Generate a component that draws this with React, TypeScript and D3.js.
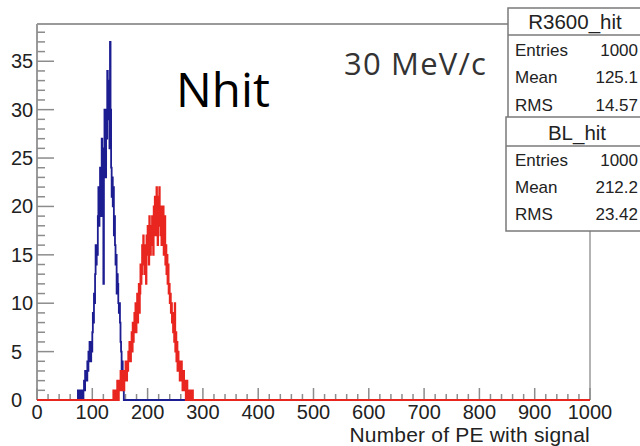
import React from "react";
import * as d3 from "d3";

const W = 640;
const H = 446;

const xTicksMajor = [0, 100, 200, 300, 400, 500, 600, 700, 800, 900, 1000];
const yTicksMajor = [0, 5, 10, 15, 20, 25, 30, 35];

const blueStart = 74;
const blueCounts = [
  1, 0, 1, 1, 1, 0, 1, 0, 1, 0,
  1, 2, 1, 3, 2, 3, 2, 4, 3, 5,
  4, 6, 5, 4, 6, 5, 7, 9, 8, 11,
  10, 13, 16, 14, 16, 15, 19, 22, 18, 20,
  24, 21, 19, 27, 24, 22, 12, 26, 30, 28,
  23, 30, 27, 34, 29, 33, 31, 26, 37, 30,
  24, 21, 23, 20, 22, 17, 19, 16, 14, 15,
  11, 13, 12, 10, 9, 10, 8, 6, 5, 3,
  4, 2, 1,
];

const redStart = 138;
const redCounts = [
  1, 0, 1, 0, 1, 1, 0, 2, 1, 0,
  1, 2, 1, 3, 2, 1, 3, 2, 3, 1,
  3, 2, 4, 3, 2, 4, 3, 5, 4, 6,
  5, 4, 6, 7, 5, 8, 6, 7, 9, 8,
  10, 7, 9, 11, 8, 10, 12, 9, 11, 14,
  12, 13, 16, 14, 17, 15, 13, 16, 14, 12,
  17, 15, 18, 16, 14, 19, 17, 15, 18, 16,
  19, 17, 15, 20, 18, 21, 17, 19, 22, 20,
  16, 21, 19, 22, 18, 17, 20, 16, 19, 18,
  20, 15, 17, 19, 14, 16, 13, 15, 12, 14,
  11, 12, 10, 11, 9, 10, 8, 9, 7, 8,
  6, 10, 5, 7, 4, 6, 3, 5, 3, 4,
  2, 3, 2, 4, 2, 1, 2, 3, 1, 2,
  1, 0, 1, 2, 0, 1, 0, 1, 0, 0,
  1, 0, 0, 1,
];

const statNames = ["Entries", "Mean", "RMS"];
const blueStats = ["1000", "125.1", "14.57"];
const redStats = ["1000", "212.2", "23.42"];

const NBINS = 1000;

function fullBins(start: number, counts: number[]) {
  const arr = new Array(NBINS).fill(0);
  counts.forEach((c, i) => {
    arr[start + i] = c;
  });
  return arr;
}

export default function App() {
  const x = d3.scaleLinear().domain([0, 1000]).range([37, 590]);
  const y = d3.scaleLinear().domain([0, 38.85]).range([400, 24]);

  const stepLine = d3
    .line<[number, number]>()
    .x((d) => x(d[0]))
    .y((d) => y(d[1]))
    .curve(d3.curveStepAfter);

  const makePath = (start: number, counts: number[]) => {
    const bins = fullBins(start, counts);
    const pts: [number, number][] = bins.map((c, i) => [i, c]);
    pts.push([NBINS, bins[NBINS - 1]]);
    return stepLine(pts) || "";
  };

  const bluePath = makePath(blueStart, blueCounts);
  const redPath = makePath(redStart, redCounts);

  const xMinor = d3.range(0, 1001, 20);
  const yMinor = d3.range(0, 39, 1);

  const tickColor = "#8c8c8c";
  const labelFont = "'Liberation Sans', Arial, Helvetica, sans-serif";

  const box1 = { x: 508, y: 8, w: 140, titleH: 27, rowH: 27.5 };
  const box2 = { x: 506, y: 117, w: 142, titleH: 29, rowH: 27 };

  const renderBox = (
    b: { x: number; y: number; w: number; titleH: number; rowH: number },
    title: string,
    vals: string[],
    titleCx: number
  ) => {
    const h = b.titleH + b.rowH * 3 + 4;
    return (
      <g>
        <rect x={b.x} y={b.y} width={b.w} height={h} fill="#fff" stroke="#7a7a7a" strokeWidth={1.5} />
        <line x1={b.x} x2={b.x + b.w} y1={b.y + b.titleH} y2={b.y + b.titleH} stroke="#7a7a7a" strokeWidth={1.5} />
        <text x={titleCx} y={b.y + b.titleH - 6} textAnchor="middle" fontSize={20.5} fontFamily={labelFont} fill="#222">
          {title}
        </text>
        {statNames.map((n, i) => (
          <g key={n}>
            <text x={515} y={b.y + b.titleH + b.rowH * (i + 1) - 7} fontSize={17} fontFamily={labelFont} fill="#222">
              {n}
            </text>
            <text x={638} y={b.y + b.titleH + b.rowH * (i + 1) - 7} textAnchor="end" fontSize={17} fontFamily={labelFont} fill="#222">
              {vals[i]}
            </text>
          </g>
        ))}
      </g>
    );
  };

  return (
    <svg width={W} height={H} style={{ position: "absolute", left: 0, top: 0, background: "#fff" }}>
      <rect x={0} y={0} width={W} height={H} fill="#fff" />
      {/* frame */}
      <line x1={37} x2={590} y1={y(38.85)} y2={y(38.85)} stroke="#9a9a9a" strokeWidth={2} />
      <line x1={x(1000)} x2={x(1000)} y1={y(38.85)} y2={y(0)} stroke="#9a9a9a" strokeWidth={1.5} />
      <line x1={x(0)} x2={x(0)} y1={y(38.85)} y2={y(0)} stroke="#9a9a9a" strokeWidth={2} />

      {/* x ticks */}
      {xMinor.map((v) => (
        <line key={"xm" + v} x1={x(v)} x2={x(v)} y1={y(0)} y2={y(0) - (v % 100 === 0 ? 12 : 6)} stroke={tickColor} strokeWidth={1.5} />
      ))}
      {/* y ticks */}
      {yMinor.map((v) => (
        <line key={"ym" + v} x1={x(0)} x2={x(0) + (v % 5 === 0 ? 17 : 8)} y1={y(v)} y2={y(v)} stroke={tickColor} strokeWidth={1.5} />
      ))}

      {/* histograms */}
      <path d={bluePath} fill="none" stroke="#1d1d92" strokeWidth={1.8} />
      <path d={redPath} fill="none" stroke="#e8261f" strokeWidth={1.8} />

      {/* x labels */}
      {xTicksMajor.map((v) => (
        <text key={"xl" + v} x={x(v)} y={419} textAnchor="middle" fontSize={20} fontFamily={labelFont} fill="#222">
          {v}
        </text>
      ))}
      {/* y labels */}
      {yTicksMajor.map((v) => (
        <text key={"yl" + v} x={11} y={y(v) + 7} fontSize={20} fontFamily={labelFont} fill="#222">
          {v}
        </text>
      ))}

      <text x={590} y={442} textAnchor="end" fontSize={21} letterSpacing={0.2} fontFamily={labelFont} fill="#222">
        Number of PE with signal
      </text>

      <text x={176} y={107} fontSize={47.5} fontFamily="'Open Sans', sans-serif" fill="#000">
        Nhit
      </text>
      <text x={344} y={75} fontSize={31} letterSpacing={1.2} fontFamily="'Open Sans', sans-serif" fill="#333">
        30 MeV/c
      </text>

      {renderBox(box1, "R3600_hit", blueStats, 575)}
      {renderBox(box2, "BL_hit", redStats, 577)}
    </svg>
  );
}
